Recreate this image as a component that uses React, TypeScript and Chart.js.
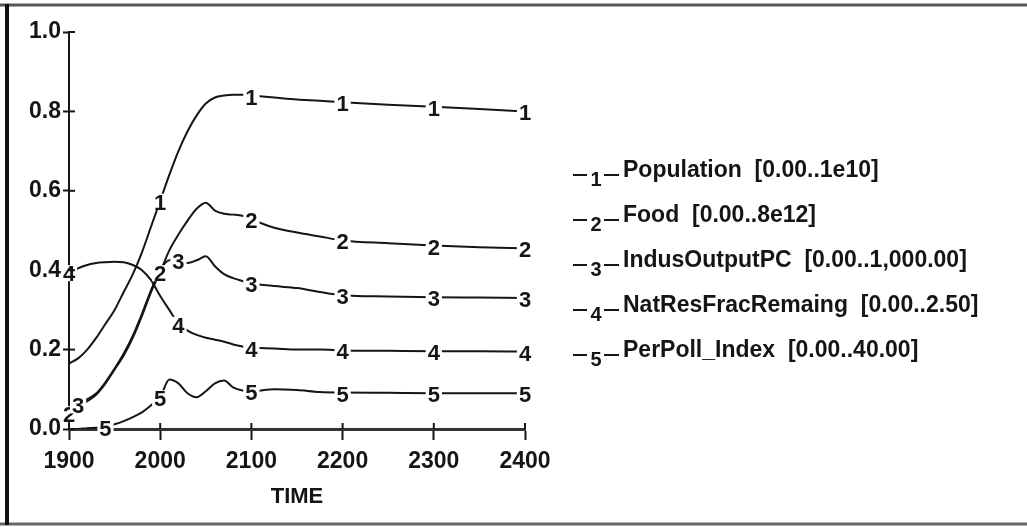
import React, { useEffect, useRef } from "react";
import { Chart, registerables } from "chart.js";

Chart.register(...registerables);

const years = [1900, 1910, 1920, 1930, 1940, 1950, 1960, 1970, 1980, 1990, 2000, 2010, 2020, 2030, 2040, 2050, 2060, 2070, 2080, 2090, 2100, 2125, 2150, 2175, 2200, 2250, 2300, 2350, 2400];

const population = [0.165, 0.178, 0.2, 0.23, 0.265, 0.3, 0.345, 0.39, 0.445, 0.51, 0.575, 0.64, 0.7, 0.75, 0.79, 0.82, 0.835, 0.84, 0.842, 0.842, 0.84, 0.835, 0.83, 0.827, 0.823, 0.817, 0.812, 0.806, 0.8];
const food = [0.04, 0.055, 0.07, 0.087, 0.115, 0.15, 0.185, 0.23, 0.285, 0.345, 0.395, 0.45, 0.49, 0.525, 0.555, 0.57, 0.55, 0.542, 0.54, 0.537, 0.528, 0.507, 0.495, 0.485, 0.475, 0.468, 0.462, 0.458, 0.455];
const indusOutputPC = [0.055, 0.062, 0.075, 0.09, 0.118, 0.152, 0.19, 0.235, 0.29, 0.35, 0.4, 0.425, 0.425, 0.418, 0.425, 0.435, 0.41, 0.39, 0.38, 0.373, 0.367, 0.36, 0.355, 0.345, 0.337, 0.334, 0.332, 0.331, 0.33];
const natResFracRemaing = [0.395, 0.405, 0.413, 0.418, 0.42, 0.421, 0.42, 0.413, 0.4, 0.375, 0.335, 0.3, 0.265, 0.248, 0.237, 0.23, 0.225, 0.22, 0.213, 0.208, 0.205, 0.203, 0.2, 0.2, 0.198, 0.197, 0.196, 0.196, 0.195];
const perPollIndex = [0.0, 0.0, 0.002, 0.003, 0.005, 0.012, 0.02, 0.03, 0.042, 0.06, 0.08, 0.125, 0.115, 0.09, 0.08, 0.095, 0.115, 0.122, 0.105, 0.097, 0.095, 0.1, 0.098, 0.093, 0.092, 0.091, 0.09, 0.09, 0.09];

const seriesNames = [
  "Population  [0.00..1e10]",
  "Food  [0.00..8e12]",
  "IndusOutputPC  [0.00..1,000.00]",
  "NatResFracRemaing  [0.00..2.50]",
  "PerPoll_Index  [0.00..40.00]",
];

const labelYears = [
  [2000, 2100, 2200, 2300, 2400],
  [1900, 2000, 2100, 2200, 2300, 2400],
  [1910, 2020, 2100, 2200, 2300, 2400],
  [1900, 2020, 2100, 2200, 2300, 2400],
  [1940, 2000, 2100, 2200, 2300, 2400],
];

const xMin = 1900;
const xMax = 2400;
const xStep = 100;
const yMin = 0;
const yMax = 1;
const yStep = 0.2;
const xTitle = "TIME";

const FONT = '"Liberation Sans", Arial, sans-serif';
const INK = "#151515";

const lineLabelPlugin = {
  id: "lineLabels",
  afterDatasetsDraw(chart: any) {
    const ctx = chart.ctx;
    ctx.save();
    ctx.font = `bold 22px ${FONT}`;
    ctx.textAlign = "center";
    ctx.textBaseline = "middle";
    chart.data.datasets.forEach((_ds: any, d: number) => {
      const meta = chart.getDatasetMeta(d);
      labelYears[d].forEach((yr) => {
        const i = years.indexOf(yr);
        const pt = meta.data[i];
        if (!pt) return;
        const txt = String(d + 1);
        const w = ctx.measureText(txt).width;
        ctx.fillStyle = "#fff";
        ctx.fillRect(pt.x - w / 2 - 2, pt.y - 7, w + 4, 16);
        ctx.fillStyle = INK;
        ctx.fillText(txt, pt.x, pt.y + 3);
      });
    });
    ctx.restore();
  },
};

const decorPlugin = {
  id: "decor",
  afterDraw(chart: any) {
    const ctx = chart.ctx;
    const { left, bottom } = chart.chartArea;
    const xs = chart.scales.x;
    const ys = chart.scales.y;
    ctx.save();
    // inner tick parts
    ctx.strokeStyle = INK;
    ctx.lineWidth = 2;
    ys.ticks.forEach((t: any) => {
      const y = ys.getPixelForValue(t.value);
      ctx.beginPath();
      ctx.moveTo(left, y);
      ctx.lineTo(left + 6, y);
      ctx.stroke();
    });
    xs.ticks.forEach((t: any) => {
      const x = xs.getPixelForValue(t.value);
      ctx.beginPath();
      ctx.moveTo(x, bottom);
      ctx.lineTo(x, bottom - 6);
      ctx.stroke();
    });
    // legend
    const lx = 573;
    seriesNames.forEach((name, i) => {
      const cy = 171 + 45 * i;
      ctx.strokeStyle = INK;
      ctx.lineWidth = 2;
      ctx.beginPath();
      ctx.moveTo(lx, cy + 4);
      ctx.lineTo(lx + 14, cy + 4);
      ctx.moveTo(lx + 31, cy + 4);
      ctx.lineTo(lx + 46, cy + 4);
      ctx.stroke();
      ctx.fillStyle = INK;
      ctx.font = `bold 20px ${FONT}`;
      ctx.textAlign = "center";
      ctx.textBaseline = "middle";
      ctx.fillText(String(i + 1), lx + 23, cy + 9);
      ctx.font = `bold 23px ${FONT}`;
      ctx.textAlign = "left";
      ctx.fillText(name, lx + 50, cy);
    });
    // frame
    ctx.strokeStyle = "#555";
    ctx.lineWidth = 3;
    ctx.beginPath();
    ctx.moveTo(0, 5);
    ctx.lineTo(chart.width, 5);
    ctx.stroke();
    ctx.strokeStyle = "#666";
    ctx.beginPath();
    ctx.moveTo(0, 524);
    ctx.lineTo(chart.width, 524);
    ctx.stroke();
    ctx.strokeStyle = "#111";
    ctx.lineWidth = 4;
    ctx.beginPath();
    ctx.moveTo(7, 4);
    ctx.lineTo(7, 525);
    ctx.stroke();
    ctx.restore();
  },
};

export default function App() {
  const ref = useRef<HTMLCanvasElement | null>(null);

  useEffect(() => {
    if (!ref.current) return;
    const series = [population, food, indusOutputPC, natResFracRemaing, perPollIndex];
    const chart = new Chart(ref.current, {
      type: "line",
      data: {
        datasets: series.map((vals, d) => ({
          label: seriesNames[d],
          data: years.map((yr, i) => ({ x: yr, y: vals[i] })),
          borderColor: INK,
          borderWidth: 2,
          pointRadius: 0,
          fill: false,
          cubicInterpolationMode: "monotone" as const,
        })),
      },
      options: {
        animation: false,
        responsive: false,
        maintainAspectRatio: false,
        events: [],
        layout: { padding: { left: 0, top: 32, right: 502, bottom: 0 } },
        plugins: {
          legend: { display: false },
          tooltip: { enabled: false },
        },
        scales: {
          x: {
            type: "linear",
            min: xMin,
            max: xMax,
            afterFit: (s: any) => {
              s.height = 98;
            },
            ticks: {
              stepSize: xStep,
              color: INK,
              font: { family: FONT, size: 23, weight: "bold" },
              padding: 8,
              maxRotation: 0,
              callback: (v: any) => String(v),
            },
            grid: {
              display: true,
              drawOnChartArea: false,
              drawTicks: true,
              tickLength: 11,
              tickColor: INK,
              tickWidth: 2,
            },
            border: { display: true, color: "#333", width: 3 },
            title: {
              display: true,
              text: xTitle,
              color: INK,
              font: { family: FONT, size: 22, weight: "bold" },
              padding: { top: 0, bottom: 17 },
            },
          },
          y: {
            type: "linear",
            min: yMin,
            max: yMax,
            afterFit: (s: any) => {
              s.width = 69;
            },
            ticks: {
              stepSize: yStep,
              color: INK,
              font: { family: FONT, size: 23, weight: "bold" },
              padding: 2,
              callback: (v: any) => Number(v).toFixed(1),
            },
            grid: {
              display: true,
              drawOnChartArea: false,
              drawTicks: true,
              tickLength: 6,
              tickColor: INK,
              tickWidth: 2,
            },
            border: { display: true, color: INK, width: 2 },
          },
        },
      },
      plugins: [lineLabelPlugin, decorPlugin],
    });
    return () => chart.destroy();
  }, []);

  return (
    <div style={{ position: "fixed", left: 0, top: 0, width: 1027, height: 527, background: "#fff" }}>
      <canvas ref={ref} width={1027} height={527} style={{ width: 1027, height: 527, display: "block" }} />
    </div>
  );
}
